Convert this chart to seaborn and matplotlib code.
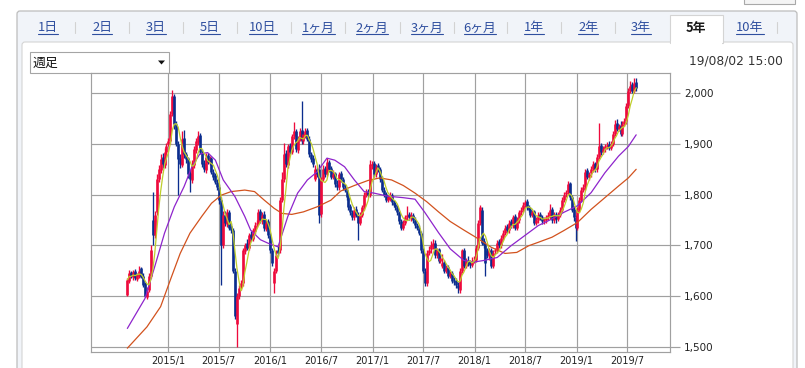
import numpy as np
import pandas as pd
import matplotlib
matplotlib.use("Agg")
import matplotlib.pyplot as plt
import matplotlib.dates as mdates
import seaborn as sns
from matplotlib.patches import Rectangle, FancyBboxPatch, Polygon
from matplotlib.lines import Line2D

# ---------------- data (weekly candles) ----------------
first_week = "2014-08-08"

opens = [
    1602,1630,1648,1638,1650,1634,1640,1655,1640,1625,
    1598,1612,1640,1750,1720,1765,1830,1848,1875,1858,
    1885,1900,1905,1960,1995,1940,1900,1872,1858,1912,
    1880,1872,1842,1828,1858,1888,1903,1918,1885,1862,
    1848,1878,1862,1872,1845,1838,1825,1815,1790,1700,
    1760,1742,1765,1738,1730,1650,1545,1600,1618,1625,
    1688,1705,1695,1722,1712,1728,1742,1745,1768,1748,
    1762,1733,1748,1720,1690,1625,1650,1690,1690,1790,
    1830,1882,1858,1898,1885,1915,1925,1888,1910,1928,
    1905,1918,1928,1910,1880,1872,1830,1850,1850,1762,
    1830,1852,1840,1865,1852,1835,1842,1820,1815,1842,
    1830,1815,1810,1795,1778,1765,1755,1772,1760,1745,
    1760,1775,1800,1808,1800,1858,1862,1840,1858,1850,
    1832,1810,1802,1790,1792,1800,1785,1782,1775,1765,
    1748,1735,1745,1755,1762,1753,1760,1750,1740,1735,
    1725,1690,1650,1625,1685,1692,1698,1705,1680,1692,
    1670,1660,1668,1650,1658,1640,1645,1630,1632,1622,
    1612,1650,1690,1660,1672,1668,1662,1670,1672,1695,
    1745,1770,1708,1700,1690,1678,1690,1660,1688,1690,
    1708,1700,1715,1725,1738,1730,1748,1740,1758,1735,
    1750,1765,1770,1780,1788,1775,1772,1760,1768,1745,
    1750,1762,1756,1748,1750,1755,1758,1772,1750,1762,
    1752,1760,1770,1790,1802,1805,1822,1795,1772,1755,
    1735,1770,1790,1810,1815,1848,1835,1842,1850,1862,
    1850,1875,1898,1885,1890,1895,1900,1893,1900,1920,
    1942,1930,1938,1920,1940,1945,1975,2005,2018,2005,
    2022,
]
highs = [
    1636,1652,1650,1652,1653,1646,1660,1658,1645,1628,
    1618,1645,1700,1805,1768,1840,1858,1880,1882,1892,
    1902,1912,1965,2007,1998,1945,1905,1880,1925,1928,
    1885,1875,1848,1868,1895,1912,1925,1922,1890,1868,
    1882,1882,1876,1875,1850,1842,1830,1820,1795,1768,
    1768,1772,1770,1745,1735,1655,1605,1622,1632,1695,
    1705,1712,1725,1728,1735,1746,1750,1772,1772,1765,
    1768,1750,1752,1725,1695,1655,1690,1698,1795,1845,
    1901,1888,1900,1902,1920,1944,1930,1915,1932,1984,
    1925,1932,1932,1915,1885,1878,1858,1855,1860,1835,
    1858,1856,1872,1868,1856,1848,1845,1828,1845,1846,
    1835,1820,1815,1798,1782,1770,1776,1778,1765,1765,
    1780,1805,1812,1812,1868,1866,1866,1860,1862,1855,
    1836,1815,1806,1800,1805,1803,1790,1786,1780,1768,
    1752,1750,1760,1778,1766,1765,1764,1755,1745,1740,
    1728,1695,1655,1690,1698,1708,1712,1710,1695,1695,
    1678,1682,1672,1662,1662,1650,1650,1638,1636,1628,
    1655,1692,1695,1675,1678,1672,1676,1678,1700,1750,
    1780,1775,1715,1705,1695,1695,1695,1690,1695,1710,
    1712,1720,1730,1740,1742,1750,1752,1760,1762,1755,
    1770,1775,1785,1790,1792,1780,1776,1770,1770,1755,
    1765,1765,1760,1755,1760,1765,1782,1775,1765,1766,
    1765,1775,1795,1805,1810,1826,1825,1800,1778,1760,
    1775,1795,1815,1820,1850,1852,1845,1856,1866,1865,
    1880,1941,1902,1895,1900,1903,1905,1905,1925,1948,
    1950,1940,1945,1945,1952,1980,2010,2025,2022,2030,
    2030,
]
lows = [
    1600,1625,1635,1632,1632,1630,1636,1635,1618,1598,
    1594,1608,1636,1700,1715,1760,1825,1842,1852,1852,
    1880,1895,1900,1955,1930,1895,1800,1852,1855,1872,
    1862,1832,1806,1822,1852,1882,1898,1880,1855,1845,
    1842,1860,1858,1840,1828,1820,1810,1782,1622,1695,
    1738,1736,1730,1725,1645,1555,1500,1595,1612,1620,
    1682,1690,1690,1708,1708,1722,1736,1740,1745,1742,
    1728,1728,1715,1685,1660,1605,1645,1678,1685,1785,
    1825,1855,1852,1880,1880,1910,1885,1882,1905,1900,
    1900,1912,1905,1875,1865,1855,1826,1835,1745,1755,
    1826,1835,1836,1845,1830,1830,1815,1810,1810,1825,
    1810,1805,1790,1770,1760,1750,1750,1755,1711,1740,
    1755,1770,1795,1795,1796,1850,1835,1835,1845,1825,
    1805,1795,1785,1785,1788,1780,1775,1770,1760,1742,
    1730,1730,1740,1750,1750,1748,1745,1735,1730,1720,
    1685,1645,1620,1620,1680,1685,1692,1675,1675,1665,
    1665,1655,1645,1645,1635,1636,1625,1622,1615,1605,
    1605,1645,1655,1655,1660,1655,1658,1665,1668,1690,
    1740,1700,1695,1640,1675,1672,1655,1655,1682,1685,
    1695,1695,1710,1720,1725,1725,1735,1735,1730,1730,
    1745,1760,1765,1775,1770,1765,1755,1755,1740,1740,
    1745,1750,1742,1742,1745,1750,1752,1745,1745,1745,
    1748,1755,1765,1785,1795,1800,1790,1765,1748,1709,
    1730,1765,1785,1805,1810,1830,1828,1835,1845,1845,
    1845,1870,1878,1880,1885,1890,1888,1888,1895,1915,
    1925,1925,1915,1915,1935,1940,1970,2000,2000,2000,
    2005,
]
closes = [
    1632,1645,1640,1648,1636,1642,1650,1638,1622,1600,
    1610,1640,1690,1720,1760,1830,1850,1870,1860,1885,
    1895,1905,1960,1995,1940,1900,1870,1860,1910,1880,
    1870,1840,1830,1860,1890,1905,1915,1885,1860,1850,
    1875,1865,1870,1845,1835,1825,1815,1790,1700,1760,
    1745,1765,1735,1730,1650,1560,1600,1615,1625,1690,
    1700,1695,1720,1715,1730,1740,1745,1765,1750,1760,
    1735,1745,1720,1690,1665,1650,1680,1685,1790,1830,
    1880,1860,1895,1885,1915,1925,1890,1910,1925,1905,
    1920,1925,1910,1880,1870,1860,1850,1840,1760,1830,
    1850,1840,1865,1850,1835,1840,1820,1815,1840,1830,
    1815,1810,1795,1775,1765,1755,1770,1760,1745,1760,
    1775,1800,1805,1800,1860,1860,1840,1855,1850,1830,
    1810,1800,1790,1795,1800,1785,1780,1775,1765,1748,
    1735,1745,1755,1760,1755,1760,1750,1740,1735,1725,
    1690,1650,1625,1685,1690,1700,1705,1680,1690,1670,
    1675,1665,1650,1655,1640,1645,1630,1628,1622,1615,
    1650,1690,1660,1670,1665,1662,1670,1672,1695,1745,
    1775,1705,1700,1665,1680,1690,1660,1685,1690,1705,
    1700,1715,1725,1735,1730,1745,1740,1755,1735,1750,
    1765,1770,1780,1785,1775,1770,1760,1765,1745,1750,
    1760,1755,1748,1750,1755,1760,1770,1750,1760,1752,
    1760,1770,1790,1800,1805,1820,1795,1770,1755,1735,
    1770,1790,1810,1815,1845,1835,1840,1850,1860,1850,
    1875,1895,1885,1890,1895,1898,1893,1900,1920,1940,
    1930,1935,1920,1940,1945,1975,2005,2015,2005,2020,
    2010,
]

# moving averages (week index -> value)
ma26_weeks = [0, 9, 14, 19, 24, 29, 33, 37, 41, 45, 49, 55, 60, 63, 68, 72, 77,
              82, 87, 92, 97, 102, 106, 111, 116, 121, 126, 133, 141, 147, 152,
              159, 165, 172, 177, 182, 189, 196, 203, 210, 217, 223, 230, 237,
              244, 251, 256, 260]
ma26_values = [1536, 1595, 1658, 1724, 1776, 1816, 1855, 1880, 1883, 1868, 1829,
               1796, 1757, 1730, 1711, 1704, 1697, 1757, 1803, 1829, 1845, 1872,
               1868, 1855, 1829, 1806, 1803, 1797, 1794, 1791, 1765, 1725, 1693,
               1670, 1667, 1670, 1676, 1699, 1719, 1739, 1752, 1765, 1778, 1804,
               1843, 1876, 1895, 1918]
ma52_weeks = [0, 10, 17, 22, 27, 32, 38, 43, 48, 53, 60, 65, 70, 75, 79, 84, 90,
              97, 104, 109, 116, 123, 129, 135, 141, 147, 153, 159, 165, 172,
              178, 186, 193, 199, 205, 210, 217, 223, 230, 237, 244, 251, 256, 260]
ma52_values = [1497, 1539, 1579, 1632, 1684, 1724, 1757, 1783, 1799, 1806, 1809,
               1806, 1789, 1773, 1763, 1761, 1766, 1776, 1789, 1807, 1818, 1828,
               1833, 1829, 1818, 1803, 1786, 1766, 1747, 1730, 1716, 1696, 1684,
               1686, 1699, 1706, 1716, 1729, 1745, 1771, 1794, 1817, 1833, 1850]

y_ticks = [1500, 1600, 1700, 1800, 1900, 2000]
x_ticks = ["2015-01-01", "2015-07-01", "2016-01-01", "2016-07-01", "2017-01-01",
           "2017-07-01", "2018-01-01", "2018-07-01", "2019-01-01", "2019-07-01"]
x_tick_labels = ["2015/1", "2015/7", "2016/1", "2016/7", "2017/1",
                 "2017/7", "2018/1", "2018/7", "2019/1", "2019/7"]
tabs = ["1日", "2日", "3日", "5日", "10日", "1ヶ月", "2ヶ月", "3ヶ月", "6ヶ月",
        "1年", "2年", "3年", "5年", "10年"]
active_tab = "5年"
stamp = "19/08/02 15:00"
interval_label = "週足"

# ---------------- style ----------------
sns.set_style("white")
plt.rcParams['font.family'] = ['DejaVu Sans', 'Noto Sans CJK JP']

RED = '#EE0A3C'
BLUE = '#0B2D8E'
YELLOW = '#BFCE2C'
PURPLE = '#8E24CC'
ORANGE = '#D2521E'
GRID = '#A0A0A0'
CJK = ['Noto Sans CJK JP', 'DejaVu Sans']

dates = pd.date_range(first_week, periods=len(closes), freq="7D")
df = pd.DataFrame({"date": dates, "open": opens, "high": highs,
                   "low": lows, "close": closes})
df["ma_short"] = df["close"].rolling(5, min_periods=1).mean()
ma26 = pd.DataFrame({"date": dates[ma26_weeks], "value": ma26_values})
ma52 = pd.DataFrame({"date": dates[ma52_weeks], "value": ma52_values})

W, H = 805, 368
fig = plt.figure(figsize=(W / 100, H / 100), dpi=100)
fig.patch.set_facecolor('white')

# ---------------- page chrome (pixel coordinates) ----------------
bg = fig.add_axes([0, 0, 1, 1], zorder=0)
bg.set_xlim(0, W)
bg.set_ylim(H, 0)
bg.axis('off')

bg.add_patch(Rectangle((744, -6), 51, 9.5, fc='#F4F4F4', ec='#A8A8A8', lw=0.8))
bg.add_patch(FancyBboxPatch((17, 11), 780, 420,
                            boxstyle="round,pad=0,rounding_size=3",
                            fc='#F1F4F9', ec='#BDBDBD', lw=0.9))
bg.add_patch(FancyBboxPatch((22, 42), 771, 420,
                            boxstyle="round,pad=0,rounding_size=3",
                            fc='white', ec='#D4D4D4', lw=0.8))
bg.add_patch(Rectangle((670, 14.5), 53, 28.5, fc='white', ec='#D4D4D4', lw=0.8))
bg.add_patch(Rectangle((670.6, 40.5), 51.8, 4, fc='white', ec='none'))

tab_centers = [48, 102, 156, 210, 263, 318, 372, 427, 480, 534, 588, 641, 696, 750]
tab_texts = []
for lab, cx in zip(tabs, tab_centers):
    if lab == active_tab:
        t = bg.text(cx, 28, lab, ha='center', va='center', fontsize=9.3,
                    color='#1A1A1A', fontweight='bold', family=CJK)
    else:
        t = bg.text(cx, 28, lab, ha='center', va='center', fontsize=9.3,
                    color='#2F4F9F', family=CJK)
        tab_texts.append(t)
seps = [(a + b) / 2 for a, b in zip(tab_centers[:-1], tab_centers[1:])]
seps = [s for s in seps if not (660 < s < 730)] + [777]
for s in seps:
    bg.plot([s, s], [22, 33], color='#D2D2D2', lw=0.8)

# dropdown
bg.add_patch(Rectangle((30, 52), 139, 21, fc='white', ec='#A5A5A5', lw=0.8))
bg.text(33, 63, interval_label, ha='left', va='center', fontsize=9.3,
        color='#111111', family=CJK)
bg.add_patch(Polygon([[158, 60.5], [165, 60.5], [161.5, 64.5]], closed=True,
                     fc='#111111', ec='none'))
bg.text(783, 60.5, stamp, ha='right', va='center', fontsize=8.8, color='#333333')

# ---------------- chart ----------------
ax = fig.add_axes([91 / W, 1 - 352 / H, 579 / W, 279 / H], zorder=2)
ax.set_facecolor('white')

up = df["close"] >= df["open"]
cols = np.where(up, RED, BLUE)
body_lo = np.minimum(df["open"], df["close"])
body_hi = np.maximum(df["open"], df["close"])
wick_hi = np.maximum(df["high"], body_hi)
wick_lo = np.minimum(df["low"], body_lo)
xd = mdates.date2num(df["date"].dt.to_pydatetime())
ax.vlines(xd, wick_lo, wick_hi, colors=cols, lw=0.95, zorder=3)
ax.vlines(xd, body_lo, body_hi, colors=cols, lw=1.9, zorder=3)

sns.lineplot(data=ma52, x="date", y="value", ax=ax, color=ORANGE, lw=0.9, zorder=4)
sns.lineplot(data=ma26, x="date", y="value", ax=ax, color=PURPLE, lw=0.9, zorder=4)
sns.lineplot(data=df, x="date", y="ma_short", ax=ax, color=YELLOW, lw=0.9, zorder=5)

ax.set_xlim(mdates.date2num(pd.Timestamp("2014-03-31")),
            mdates.date2num(pd.Timestamp("2019-12-01")))
ax.set_ylim(1489.5, 2040)
ax.set_yticks(y_ticks)
ax.set_yticklabels([f"{v:,}" for v in y_ticks])
ax.yaxis.tick_right()
ax.set_xticks(mdates.date2num(pd.to_datetime(x_ticks)))
ax.set_xticklabels(x_tick_labels)
ax.set_xlabel("")
ax.set_ylabel("")
ax.grid(True, color=GRID, lw=0.85)
ax.set_axisbelow(True)
for s in ax.spines.values():
    s.set_color(GRID)
    s.set_linewidth(0.85)
ax.tick_params(axis='y', length=7, width=0.85, color=GRID, pad=3,
               labelsize=7.5, labelcolor='#222222')
ax.tick_params(axis='x', length=0, pad=3.2, labelsize=7, labelcolor='#222222')
if ax.get_legend() is not None:
    ax.get_legend().remove()

# underline the tab links
fig.canvas.draw()
renderer = fig.canvas.get_renderer()
for t in tab_texts:
    bb = t.get_window_extent(renderer)
    x0, x1 = bb.x0 / W, bb.x1 / W
    yy = 1 - 34.2 / H
    fig.add_artist(Line2D([x0, x1], [yy, yy], transform=fig.transFigure,
                          color='#2F4F9F', lw=0.8))

fig.savefig("out.png", dpi=100, facecolor='white')
